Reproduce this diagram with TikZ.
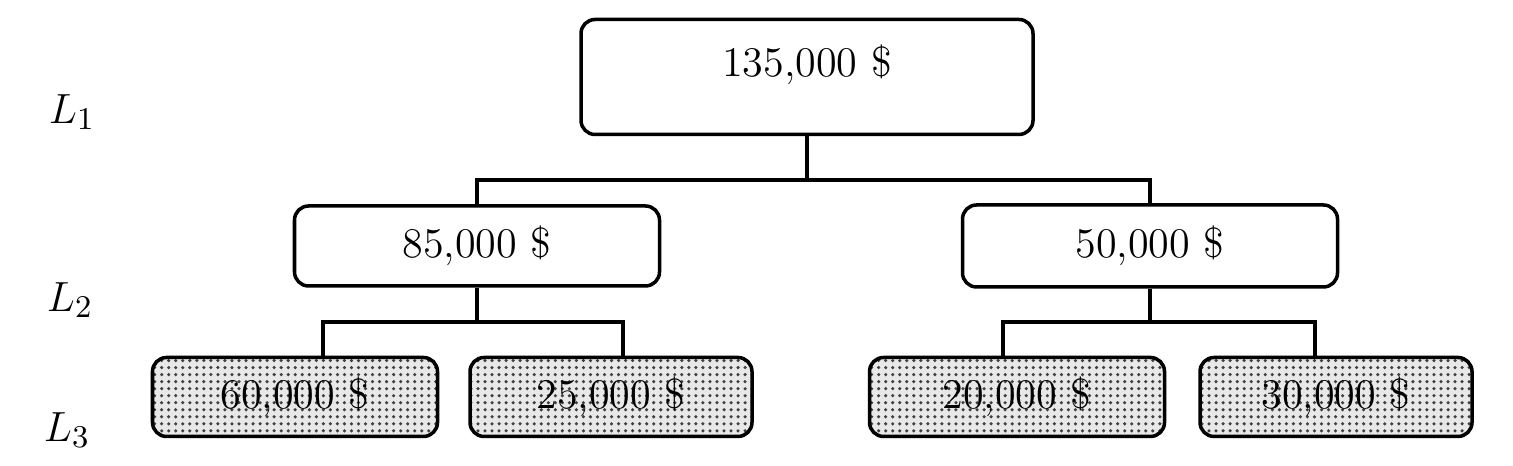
\documentclass[tikz,border=0pt]{standalone}
\usepackage{tikz}
\usetikzlibrary{positioning}
\usetikzlibrary{patterns.meta}

\begin{document}
\begin{tikzpicture}[line width=1pt,
    valbox/.style={draw, rounded corners=4pt, inner sep=0pt, font=\fontsize{12}{14}\selectfont},
    leafbox/.style={valbox, minimum height=0.79cm, preaction={fill=gray!18},
      pattern={Dots[distance=2pt, radius=0.5pt]}, pattern color=black!75},
    lvl/.style={font=\fontsize{13}{15}\selectfont}]
    \useasboundingbox (0, 0) rectangle (15.13, 4.66);

    \node(0) [valbox, minimum width=4.52cm, minimum height=1.15cm, text height=0.4cm, text depth=0.4cm] at (8.07, 3.89) {135,000 \$};
    \node(1a) [valbox, minimum width=3.65cm, minimum height=0.8cm] at (4.77, 2.2) {85,000 \$};
    \node(1b) [valbox, minimum width=3.75cm, minimum height=0.82cm] at (11.5, 2.2) {50,000 \$};
    \node(2a) [leafbox, minimum width=2.85cm] at (2.95, 0.69) {60,000 \$};
    \node(2b) [leafbox, minimum width=2.82cm] at (6.11, 0.69) {25,000 \$};
    \node(2c) [leafbox, minimum width=2.95cm] at (10.17, 0.69) {20,000 \$};
    \node(2d) [leafbox, minimum width=2.72cm] at (13.36, 0.69) {30,000 \$};

    \node(l1) [lvl] at (0.72, 3.54) {$L_1$};
    \node(l2) [lvl] at (0.7, 1.66) {$L_2$};
    \node(l3) [lvl] at (0.67, 0.36) {$L_3$};

    \coordinate(j0) at (8.07, 2.86);
    \coordinate(j1a) at (3.23, 1.44);
    \coordinate(j1b) at (6.23, 1.44);
    \coordinate(j1c) at (10.03, 1.44);
    \coordinate(j1d) at (13.15, 1.44);

    \draw (0) -- (j0);
    \draw (1a) |- (j0) -| (1b);
    \draw (1a) -- (1a |- j1a);
    \draw (j1a |- 2a.north) -- (j1a) -- (j1b) -- (j1b |- 2b.north);
    \draw (1b) -- (1b |- j1c);
    \draw (j1c |- 2c.north) -- (j1c) -- (j1d) -- (j1d |- 2d.north);
\end{tikzpicture}
\end{document}
